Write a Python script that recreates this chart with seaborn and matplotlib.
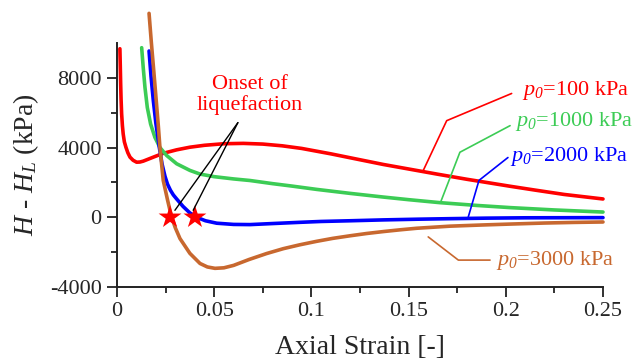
import numpy as np
import pandas as pd
import matplotlib
matplotlib.use("Agg")
import matplotlib.pyplot as plt
import seaborn as sns

# ---------------- data ----------------
x_100 = [0.0015, 0.0017, 0.0019, 0.0021, 0.0024, 0.0028, 0.0032, 0.0038, 0.0046, 0.0056,
         0.0067, 0.0083, 0.0101, 0.0118, 0.0135, 0.016, 0.0187, 0.0238, 0.0307, 0.0375,
         0.045, 0.055, 0.065, 0.075, 0.085, 0.095, 0.11, 0.125, 0.137, 0.15,
         0.165, 0.18, 0.19, 0.2022, 0.215, 0.23, 0.25]
y_100 = [9670, 8700, 7640, 6800, 5930, 5250, 4780, 4330, 4020, 3700,
         3450, 3270, 3160, 3170, 3220, 3330, 3450, 3670, 3870, 4020,
         4130, 4220, 4240, 4200, 4100, 3950, 3640, 3300, 3030, 2770,
         2470, 2180, 2000, 1780, 1560, 1310, 1050]

x_1000 = [0.0127, 0.0135, 0.0144, 0.0156, 0.0173, 0.0195, 0.0221, 0.0256, 0.0307, 0.0375,
          0.0427, 0.05, 0.06, 0.0684, 0.08, 0.09, 0.1027, 0.12, 0.137, 0.15,
          0.166, 0.185, 0.2022, 0.225, 0.25]
y_1000 = [9730, 8590, 7450, 6300, 5350, 4590, 4000, 3540, 3070, 2690,
          2480, 2330, 2200, 2110, 1930, 1790, 1600, 1370, 1160, 1010,
          840, 680, 555, 420, 300]

x_2000 = [0.0165, 0.0175, 0.0187, 0.0200, 0.0218, 0.0232, 0.0247, 0.026, 0.0275, 0.029,
          0.0307, 0.034, 0.0375, 0.041, 0.0455, 0.0513, 0.06, 0.0684, 0.08, 0.094,
          0.105, 0.12, 0.137, 0.155, 0.1713, 0.19, 0.21, 0.25]
y_2000 = [9540, 8100, 6690, 5400, 4000, 3050, 2350, 1900, 1550, 1280,
          1050, 620, 250, 0, -200, -340, -410, -420, -360, -290,
          -240, -200, -150, -110, -80, -50, -30, -20]

x_3000 = [0.0165, 0.0177, 0.019, 0.0202, 0.0213, 0.0221, 0.0238, 0.026, 0.0281, 0.030,
          0.0324, 0.0375, 0.0427, 0.0465, 0.0504, 0.055, 0.06, 0.068, 0.077, 0.0856,
          0.094, 0.1027, 0.111, 0.12, 0.1285, 0.137, 0.1456, 0.1542, 0.1713, 0.1884,
          0.2022, 0.22, 0.235, 0.25]
y_3000 = [11700, 10000, 8300, 6690, 5200, 4000, 2110, 1000, 0, -600,
          -1220, -2070, -2650, -2850, -2930, -2900, -2760, -2420, -2080, -1800,
          -1580, -1380, -1210, -1060, -930, -820, -720, -630, -510, -440,
          -390, -330, -295, -270]

series_names = ["100", "1000", "2000", "3000"]
colors = ["#ff0000", "#3ccc55", "#0000ff", "#c8682f"]

# onset of liquefaction points
onset_x = [0.0273, 0.0401]
onset_y = [0, 0]

x_ticks = [0, 0.05, 0.1, 0.15, 0.2, 0.25]
x_ticklabels = ["0", "0.05", "0.1", "0.15", "0.2", "0.25"]
y_ticks = [-4000, 0, 4000, 8000]
y_ticklabels = ["-4000", "0", "4000", "8000"]

# leader lines (data coords) and label anchor for each series
leaders = {
    "100": ([0.1574, 0.1696, 0.2030], [2650, 5543, 7103], (0.2085, 7300)),
    "1000": ([0.1665, 0.1764, 0.2022], [874, 3731, 5257], (0.2045, 5500)),
    "2000": ([0.1807, 0.1862, 0.2011], [17, 2114, 3428], (0.2022, 3500)),
    "3000": ([0.1601, 0.1756, 0.1919], [-1126, -2457, -2457], (0.1950, -2500)),
}
onset_apex = (0.0622, 5430)
onset_ends = [(0.0298, 400), (0.0392, 400)]
onset_text_pos = (0.0684, 7030)

# ---------------- build table ----------------
frames = []
for name, xs, ys in zip(series_names, [x_100, x_1000, x_2000, x_3000],
                        [y_100, y_1000, y_2000, y_3000]):
    frames.append(pd.DataFrame({"strain": xs, "dH": ys, "p0": name}))
df = pd.concat(frames, ignore_index=True)

# ---------------- style ----------------
sns.set_theme(style="ticks")
plt.rcParams["font.family"] = ["Liberation Serif", "DejaVu Serif"]
plt.rcParams["mathtext.fontset"] = "custom"
plt.rcParams["mathtext.rm"] = "Liberation Serif"
plt.rcParams["mathtext.it"] = "Liberation Serif:italic"
plt.rcParams["mathtext.sf"] = "Liberation Serif:italic"
plt.rcParams["axes.unicode_minus"] = False

fig = plt.figure(figsize=(6.34, 3.6), dpi=100)
ax = fig.add_axes([0.1845, 0.2028, 0.7666, 0.6778])

sns.lineplot(data=df, x="strain", y="dH", hue="p0", palette=dict(zip(series_names, colors)),
             linewidth=2.6, ax=ax, legend=False, sort=False, clip_on=False)

sns.scatterplot(x=onset_x, y=onset_y, marker="*", s=300, color="#ff0000",
                edgecolor="none", ax=ax, zorder=5, clip_on=False)

# onset annotation
for ex, ey in onset_ends:
    ax.plot([onset_apex[0], ex], [onset_apex[1], ey], color="black", lw=1.0, zorder=6)
ax.text(onset_text_pos[0], onset_text_pos[1], "Onset of\nliquefaction", color="#ff0000",
        ha="center", va="center", fontsize=16, linespacing=1.05)

# series labels
for name, col in zip(series_names, colors):
    lx, ly, (tx, ty) = leaders[name]
    ax.plot(lx, ly, color=col, lw=1.2, clip_on=False)
    ax.text(tx, ty, r"$p_{\mathsf{0}}$=" + name + " kPa", color=col, fontsize=16,
            ha="left", va="center", clip_on=False)

ax.set_xlim(0, 0.25)
ax.set_ylim(-4000, 10000)
ax.set_xticks(x_ticks)
ax.set_xticklabels(x_ticklabels)
ax.set_yticks(y_ticks)
ax.set_yticklabels(y_ticklabels)
ax.set_xticks(np.arange(0.025, 0.25, 0.05), minor=True)
ax.set_yticks([-2000, 2000, 6000], minor=True)

ax.tick_params(axis="both", which="major", direction="out", length=7, width=1.3,
               labelsize=16, color="#222222", pad=4)
ax.tick_params(axis="both", which="minor", direction="out", length=4, width=1.3,
               color="#222222")
for s in ["top", "right"]:
    ax.spines[s].set_visible(False)
for s in ["left", "bottom"]:
    ax.spines[s].set_linewidth(1.4)
    ax.spines[s].set_color("#222222")

ax.set_xlabel("Axial Strain [-]", fontsize=20, labelpad=10)
ax.set_ylabel(r"$H$ - $H_L$ (kPa)", fontsize=20, labelpad=6)

fig.savefig("out.png", dpi=100)
